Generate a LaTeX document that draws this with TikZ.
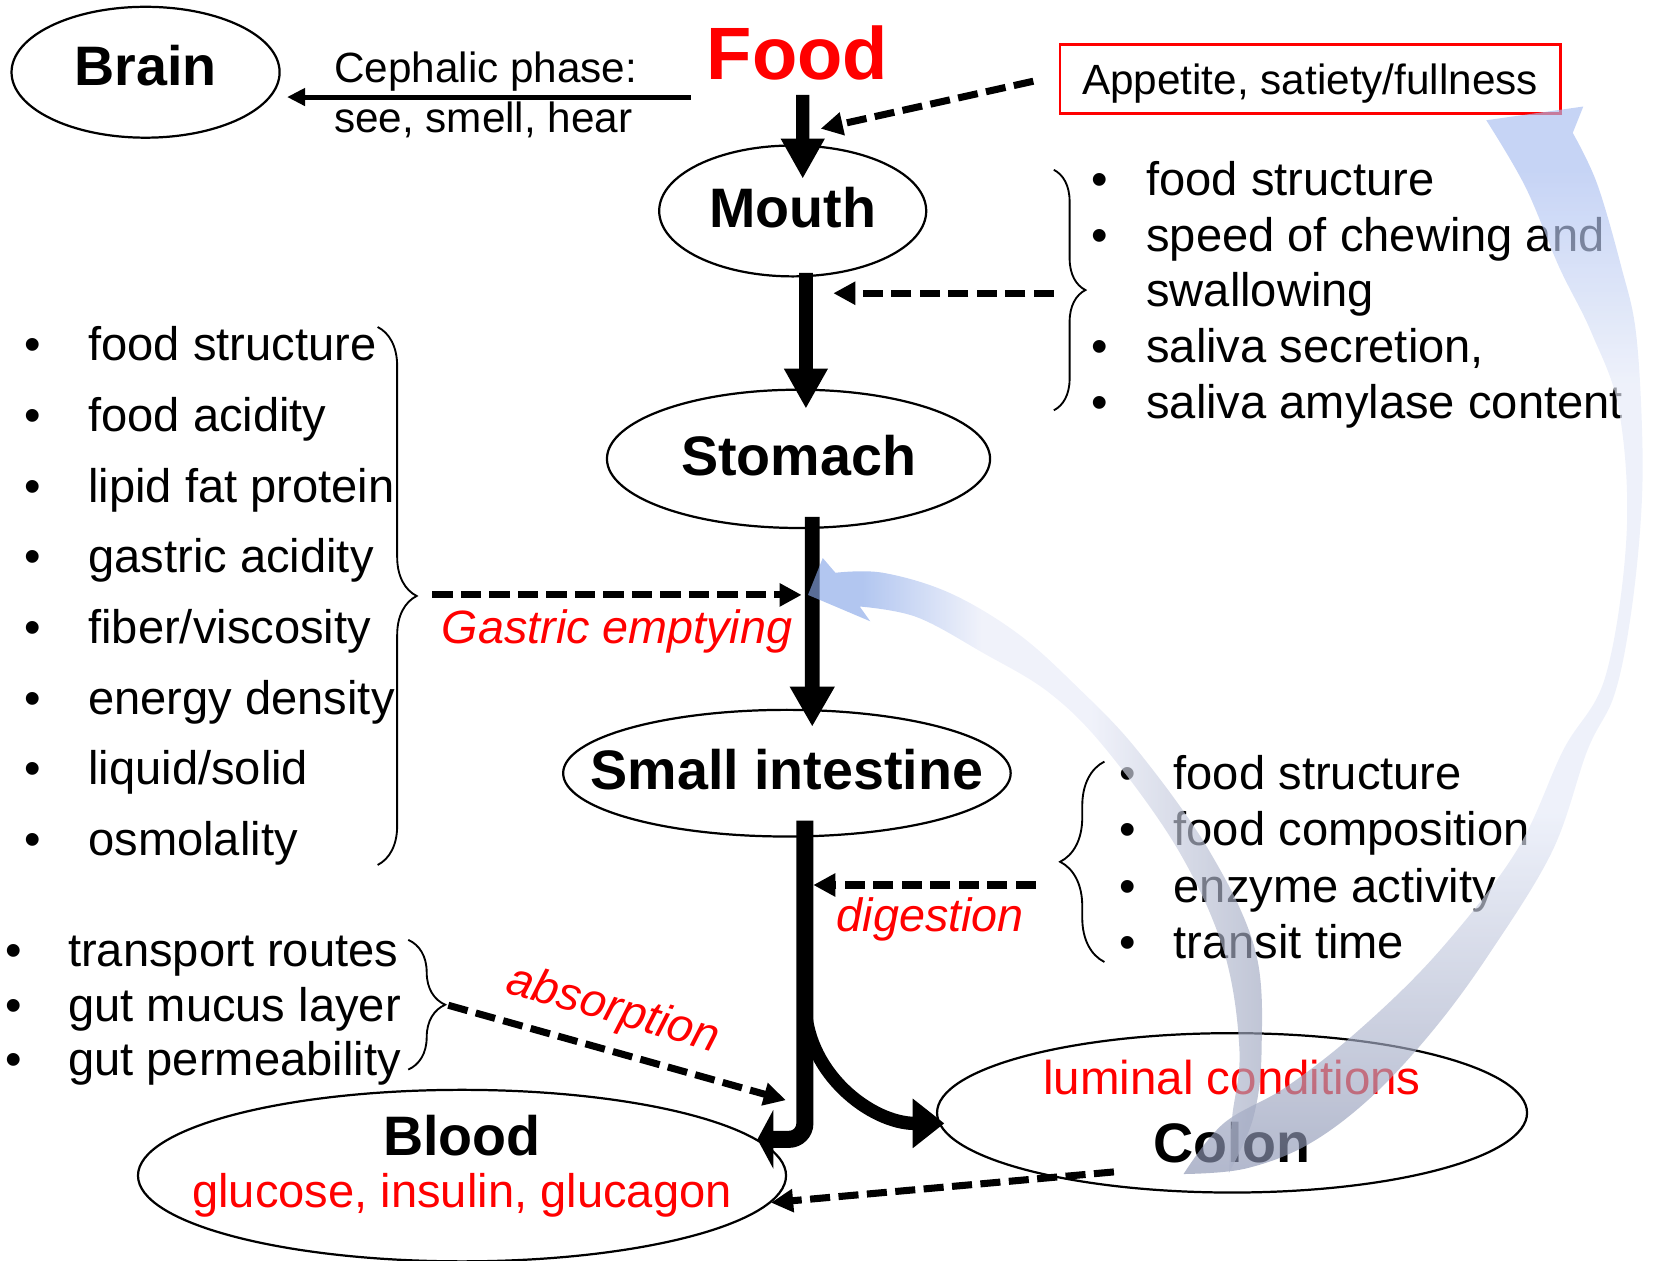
\documentclass[tikz,border=0pt]{standalone}
\usepackage{fontspec}
\setmainfont{Liberation Sans}
\usetikzlibrary{arrows.meta,shapes.geometric,decorations.pathreplacing}

\definecolor{feedtop}{RGB}{168,189,240}
\definecolor{feedmid}{RGB}{229,234,248}
\definecolor{feedlow}{RGB}{137,146,177}
\definecolor{gastrichead}{RGB}{137,168,232}
\definecolor{gastricmid}{RGB}{232,235,248}
\definecolor{gastrictail}{RGB}{158,166,191}

\pgfdeclareverticalshading{feedshade}{100bp}{color(0bp)=(feedlow); color(25bp)=(feedlow);
  color(42bp)=(feedmid); color(62bp)=(feedmid); color(72bp)=(feedtop); color(100bp)=(feedtop)}
\pgfdeclarehorizontalshading{gastricshade}{100bp}{color(0bp)=(gastrichead); color(25bp)=(gastrichead);
  color(31bp)=(gastrichead); color(44bp)=(gastricmid); color(56bp)=(gastricmid); color(75bp)=(gastrictail);
  color(100bp)=(gastrictail)}

\newcommand{\bul}[1]{\llap{\textbullet\hspace{#1}}}

\begin{document}
\begin{tikzpicture}[x=0.01cm,y=-0.01cm,
  organ/.style={ellipse,draw,line width=0.6pt,inner xsep=-0.8cm,inner ysep=0pt,text depth=0.07cm,font=\bfseries\fontsize{15}{18}\selectfont},
  item/.style={anchor=base west,inner sep=0pt,font=\fontsize{12.7}{15}\selectfont},
  effect/.style={anchor=base,inner sep=0pt,text=red,font=\itshape\fontsize{12.6}{15}\selectfont},
  gut/.style={line width=3.7pt,-{Triangle[length=0.38cm,width=0.39cm]}},
  dashflow/.style={line width=1.9pt,dash pattern=on 0.19cm off 0.08cm,-{Triangle[length=0.21cm,width=0.21cm]}},
  curly/.style={decorate,line width=0.5pt,decoration={brace,amplitude=#1}},
  ribbon/.style={opacity=0.65}]

\useasboundingbox (0,0) rectangle (1568,1195);

%% organs
\node[font=\bfseries\fontsize{20}{24}\selectfont,text=red,inner sep=0pt,anchor=base] (food) at (756,75) {Food};
\node[organ,minimum width=2.54cm,minimum height=1.24cm,text depth=0.14cm] (brain) at (138,68.5) {Brain};
\node[organ,minimum width=2.53cm,minimum height=1.24cm] (mouth) at (751.5,200) {Mouth};
\node[organ,minimum width=3.63cm,minimum height=1.31cm] (stomach) at (757,435) {Stomach};
\node[organ,minimum width=4.24cm,minimum height=1.20cm] (si) at (746,733) {Small intestine};
\node[organ,minimum width=6.14cm,minimum height=1.47cm,align=center,text depth=0.268cm,
      font=\fontsize{12.7}{14.2}\selectfont] (blood) at (438,1114.5)
      {{\bfseries\fontsize{15}{18}\selectfont Blood}\\\textcolor{red}{glucose, insulin, glucagon}};
\node[organ,minimum width=5.59cm,minimum height=1.51cm,align=center,text depth=0.03cm,
      font=\fontsize{12.8}{18.1}\selectfont] (colon) at (1168,1055)
      {\textcolor{red}{luminal conditions}\\{\bfseries\fontsize{15}{18}\selectfont Colon}};

\node[anchor=north west,inner sep=0pt,align=left,font=\fontsize{11.4}{13.5}\selectfont] (ceph) at (316,48)
      {Cephalic phase:\\see, smell, hear};
\node[draw=red,line width=0.7pt,minimum width=4.74cm,minimum height=0.65cm,inner sep=0pt,text depth=0pt,
      font=\fontsize{11.4}{13.5}\selectfont] (appetite) at (1242,75) {Appetite, satiety/fullness};

%% factor lists
\def\gastricitems{food structure, food acidity, lipid fat protein, gastric acidity,
  fiber/viscosity, energy density, liquid/solid, osmolality}
\foreach \t [count=\i] in \gastricitems
  \node[item] (gs\i) at (83,{342+67*(\i-1)}) {\bul{0.45cm}\t};

\foreach \b/\t [count=\i] in {1/food structure, 1/speed of chewing and, 0/swallowing,
  1/{saliva secretion,}, 1/saliva amylase content}
  \node[item] (ms\i) at (1086,{185+53*(\i-1)}) {\ifnum\b=1 \bul{0.36cm}\fi\t};

\foreach \t [count=\i] in {food structure, food composition, enzyme activity, transit time}
  \node[item] (ds\i) at (1112,{748+53.7*(\i-1)}) {\bul{0.36cm}\t};

\foreach \t [count=\i] in {transport routes, gut mucus layer, gut permeability}
  \node[item] (as\i) at (64,{916+52*(\i-1)}) {\bul{0.44cm}\t};

\node[effect] (gastric) at (585,610) {Gastric emptying};
\node[effect] (digest) at (882,883) {digestion};
\node[effect,rotate=-16] (absorb) at (578,969) {absorption};

%% braces
\draw[curly=0.30cm] (999,161) -- (999,389);
\draw[curly=0.37cm] (358,310) -- (358,820);
\draw[curly=0.42cm] (1047,912) -- (1047,722);
\draw[curly=0.35cm] (387,891) -- (387,1014);

%% free ends of the connectors
\coordinate (cephOut) at (655,92);
\coordinate (appIn) at (778,122);
\coordinate (mouthBrace) at (999,278);
\coordinate (mouthIn) at (790,278);
\coordinate (gastricBrace) at (410,564);
\coordinate (gastricIn) at (760,564);
\coordinate (siBrace) at (982,839);
\coordinate (siIn) at (771,839);
\coordinate (absBrace) at (425,953);
\coordinate (absIn) at (745,1043);
\coordinate (colonOut) at (1056,1111);

%% the gut
\draw[gut,line width=3.6pt] ([xshift=0.05cm,yshift=-0.135cm]food.south) -- ([xshift=0.095cm,yshift=-0.325cm]mouth.north);
\draw[gut] ([xshift=0.125cm,yshift=0.044cm]mouth.south) -- ([xshift=0.07cm,yshift=-0.19cm]stomach.north);
\draw[gut,line width=4pt,-{Triangle[length=0.38cm,width=0.40cm]}] ([xshift=0.13cm,yshift=0.115cm]stomach.south) -- ([xshift=0.24cm,yshift=-0.17cm]si.north);
\draw[gut,line width=4.6pt,rounded corners=0.15cm,-{Triangle[length=0.15cm,width=0.55cm]}]
  ([xshift=0.17cm,yshift=0.16cm]si.south) |- (blood.7);
\draw[gut,line width=3.6pt,-{Triangle[length=0.3cm,width=0.45cm]}]
  ([xshift=0.17cm,yshift=-1.55cm]si.south) to[out=-90,in=180] ([xshift=0.08cm,yshift=-0.1cm]colon.west);

\draw[line width=1.35pt,-{Triangle[length=0.17cm,width=0.16cm]},shorten >=0.06cm] (cephOut) -- (cephOut -| brain.east);

%% influences
\draw[dashflow] ([xshift=-0.24cm,yshift=-0.02cm]appetite.west) -- (appIn);
\draw[dashflow] (mouthBrace) -- (mouthIn);
\draw[dashflow] (gastricBrace) -- (gastricIn);
\draw[dashflow] (siBrace) -- (siIn);
\draw[dashflow] (absBrace) -- (absIn);
\draw[dashflow] (colonOut) -- (blood.-5);

%% feedback from the colon
\shade[ribbon,shading=feedshade]
  plot[smooth,tension=0.6] coordinates {(1122,1113) (1180,1108) (1240,1085) (1300,1040) (1360,975) (1414,901)
    (1472,806) (1505,711) (1530,660) (1545,590) (1555,500) (1557,420) (1551,316) (1537,253) (1514,174) (1491,126)}
  -- (1501,101) -- (1409,114)
  -- plot[smooth,tension=0.6] coordinates {(1409,114) (1446,177) (1478,253) (1509,316) (1535,390) (1542,507)
    (1522,641) (1482,711) (1438,806) (1365,901) (1290,975) (1220,1030) (1160,1065) (1122,1113)}
  -- cycle;
\shade[ribbon,shading=gastricshade]
  (766,564) -- (780,529) -- (792,543)
  -- plot[smooth,tension=0.6] coordinates {(792,543) (837,543) (900,562) (964,600) (1020,650) (1078,711)
    (1146,806) (1190,901) (1196,995) (1188,1060) (1165,1112)}
  -- plot[smooth,tension=0.6] coordinates {(1165,1112) (1168,1060) (1175,995) (1160,901) (1117,806)
    (1049,711) (995,657) (932,619) (869,585) (815,575)}
  -- (825,589) -- cycle;
\end{tikzpicture}
\end{document}
